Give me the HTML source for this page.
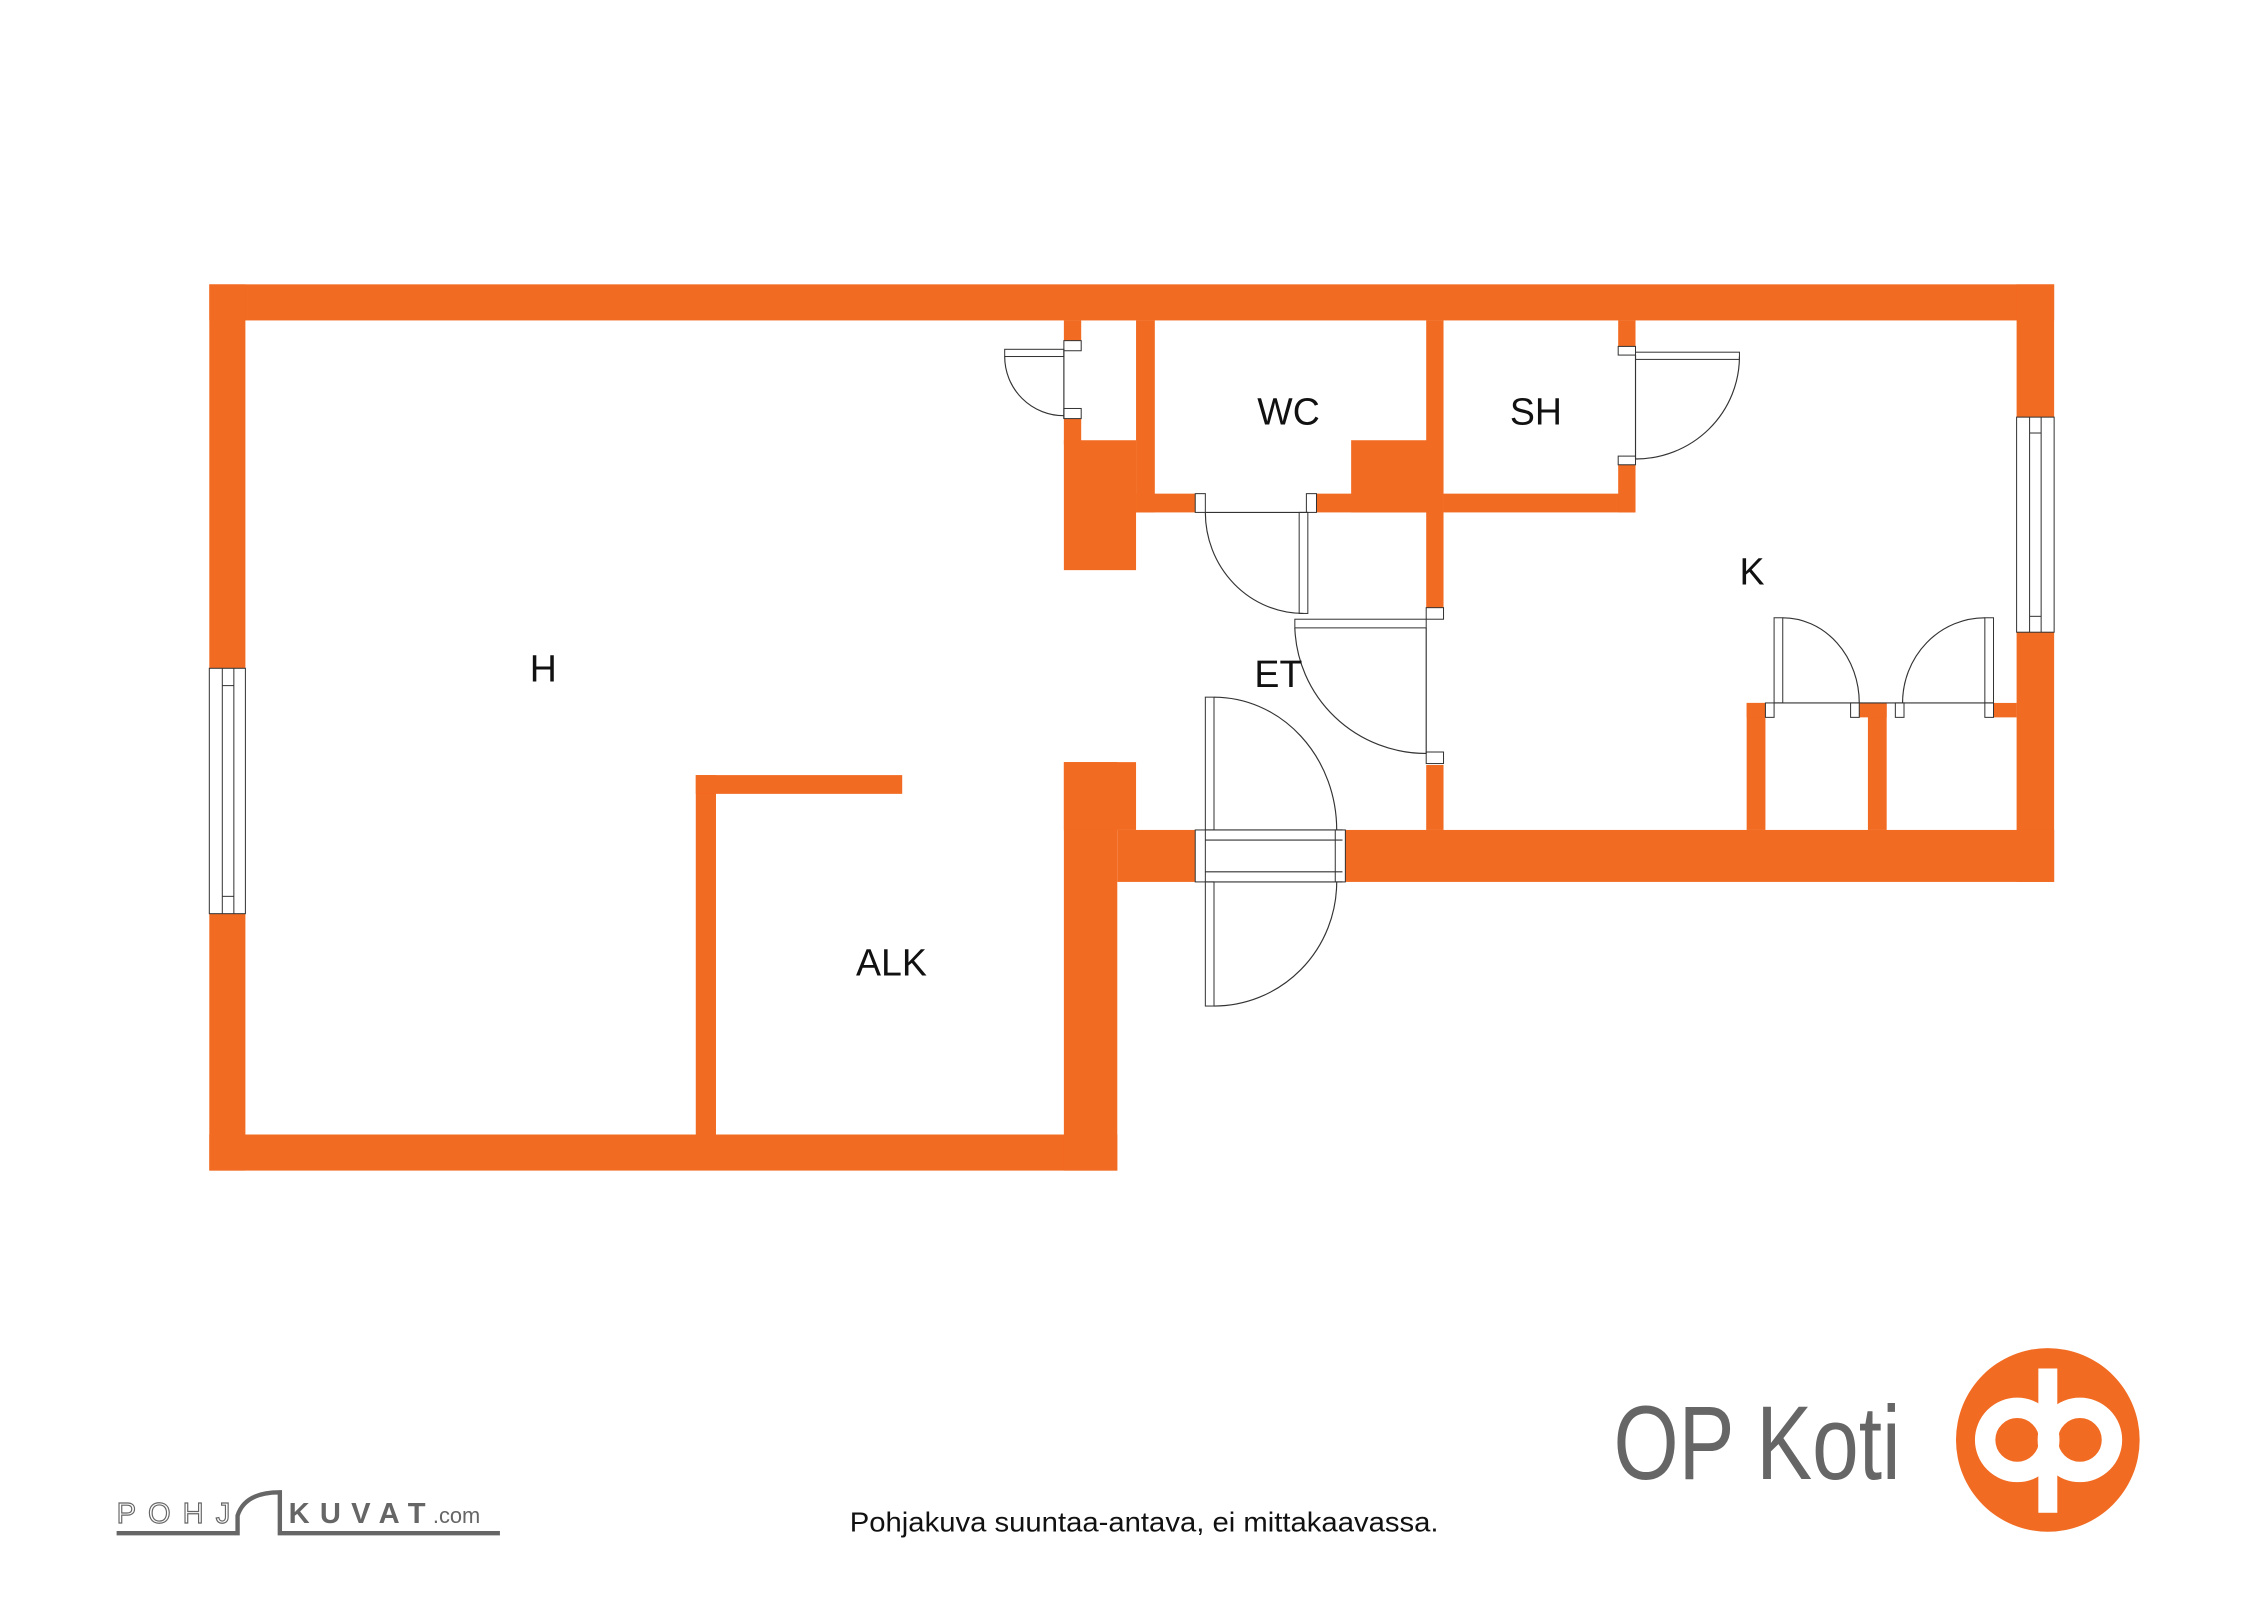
<!DOCTYPE html>
<html><head><meta charset="utf-8"><style>
html,body{margin:0;padding:0;background:#fff;}
svg{display:block;}
text{font-family:"Liberation Sans",sans-serif;}
</style></head><body>
<svg width="2262" height="1600" viewBox="0 0 1567 1108.5" preserveAspectRatio="none" xmlns="http://www.w3.org/2000/svg">
<g fill="#F26B22">
<rect x="145" y="197" width="1278" height="25"/>
<rect x="145" y="197" width="25" height="614"/>
<rect x="145" y="786" width="629" height="25"/>
<rect x="1397" y="197" width="26" height="414"/>
<rect x="930" y="575" width="493" height="36"/>
<rect x="774" y="575" width="54" height="36"/>
<rect x="737" y="528" width="37" height="283"/>
<rect x="737" y="528" width="50" height="47"/>
<rect x="737" y="222" width="12" height="20"/>
<rect x="737" y="288" width="12" height="20"/>
<rect x="737" y="305" width="50" height="90"/>
<rect x="787" y="222" width="13" height="133"/>
<rect x="787" y="342" width="43" height="13"/>
<rect x="912" y="342" width="88" height="13"/>
<rect x="936" y="305" width="64" height="50"/>
<rect x="988" y="222" width="12" height="200"/>
<rect x="988" y="530" width="12" height="45"/>
<rect x="1000" y="342" width="133" height="13"/>
<rect x="1121" y="222" width="12" height="20"/>
<rect x="1121" y="320" width="12" height="35"/>
<rect x="1210" y="487" width="13" height="88"/>
<rect x="1210" y="487" width="18" height="10"/>
<rect x="1294" y="487" width="13" height="88"/>
<rect x="1288" y="487" width="19" height="10"/>
<rect x="1381" y="487" width="16" height="10"/>
<rect x="482" y="537" width="14" height="249"/>
<rect x="482" y="537" width="143" height="13"/>
</g>
<g fill="#fff" stroke="#333" stroke-width="0.7">
<rect x="145" y="463" width="25" height="170"/>
<line x1="154" y1="463" x2="154" y2="633"/><line x1="162" y1="463" x2="162" y2="633"/>
<line x1="154" y1="475" x2="162" y2="475"/><line x1="154" y1="621" x2="162" y2="621"/>
<rect x="1397" y="289" width="26" height="149"/>
<line x1="1406" y1="289" x2="1406" y2="438"/><line x1="1414" y1="289" x2="1414" y2="438"/>
<line x1="1406" y1="300" x2="1414" y2="300"/><line x1="1406" y1="427" x2="1414" y2="427"/>
<rect x="737" y="236" width="12" height="7"/><rect x="737" y="283" width="12" height="7"/>
<rect x="828" y="342" width="7" height="13"/><rect x="905" y="342" width="7" height="13"/>
<rect x="988" y="421" width="12" height="8"/><rect x="988" y="521" width="12" height="8"/>
<rect x="1121" y="240" width="12" height="6"/><rect x="1121" y="316" width="12" height="6"/>
<rect x="828" y="575" width="7" height="36"/><rect x="925" y="575" width="7" height="36"/>
<rect x="1223" y="487" width="6" height="10"/><rect x="1282" y="487" width="6" height="10"/>
<rect x="1313" y="487" width="6" height="10"/><rect x="1375" y="487" width="6" height="10"/>
<rect x="696" y="242" width="41" height="5"/>
<rect x="900" y="355" width="6" height="70"/>
<rect x="897" y="429" width="91" height="6"/>
<rect x="835" y="483" width="6" height="92"/>
<rect x="835" y="611" width="6" height="86"/>
<rect x="1133" y="244" width="72" height="5"/>
<rect x="1229" y="428" width="6" height="59"/>
<rect x="1375" y="428" width="6" height="59"/>
</g>
<g fill="none" stroke="#333" stroke-width="0.8">
<line x1="737" y1="242" x2="737" y2="290"/>
<path d="M696 247 A41 41 0 0 0 737 288"/>
<path d="M835 355 A68 70 0 0 0 903 425"/>
<path d="M897 435 A91 90 0 0 0 988 522"/>
<line x1="988" y1="435" x2="988" y2="522"/>
<path d="M841 483 A85 92 0 0 1 926 575"/>
<path d="M926 611 A85 86 0 0 1 841 697"/>
<line x1="835" y1="575" x2="930" y2="575"/><line x1="835" y1="611" x2="930" y2="611"/>
<line x1="835" y1="604" x2="930" y2="604"/><line x1="835" y1="582" x2="930" y2="582"/>
<path d="M1205 247 A72 71 0 0 1 1133 318"/>
<line x1="1133" y1="246" x2="1133" y2="318"/>
<path d="M1235 428 A53 59 0 0 1 1288 487"/>
<path d="M1375 428 A57 59 0 0 0 1318 487"/>
<line x1="1229" y1="487" x2="1381" y2="487"/>
<line x1="835" y1="355" x2="906" y2="355"/>
</g>
<g fill="#111" font-size="26">
<text x="871" y="294">WC</text>
<text x="1046" y="294">SH</text>
<text x="1205" y="405">K</text>
<text x="367" y="472">H</text>
<text x="869" y="476">ET</text>
<text x="593" y="676">ALK</text>
</g>
<g transform="scale(1.0097)">
<text x="583" y="1051" font-size="19" fill="#111" textLength="404" lengthAdjust="spacingAndGlyphs">Pohjakuva suuntaa-antava, ei mittakaavassa.</text>
<text x="1107" y="1015" font-size="72" fill="#666" textLength="197" lengthAdjust="spacingAndGlyphs">OP Koti</text>
<circle cx="1405" cy="988" r="63" fill="#F26B22"/>
<circle cx="1384" cy="988" r="22" fill="none" stroke="#fff" stroke-width="14"/>
<circle cx="1427" cy="988" r="22" fill="none" stroke="#fff" stroke-width="14"/>
<rect x="1398.5" y="939" width="13" height="99" fill="#fff"/>
<text x="80" y="1045" font-size="20" fill="#fff" stroke="#666" stroke-width="0.8" textLength="78" lengthAdjust="spacing">POHJ</text>
<path d="M80 1052 H163 V1040 Q168 1024 192 1024 V1052 H343" fill="none" stroke="#666" stroke-width="3"/>
<text x="198" y="1045" font-size="20" font-weight="bold" fill="#666" textLength="94" lengthAdjust="spacing">KUVAT</text>
<text x="297" y="1045" font-size="15" fill="#666">.com</text>
</g>
</svg>
</body></html>
